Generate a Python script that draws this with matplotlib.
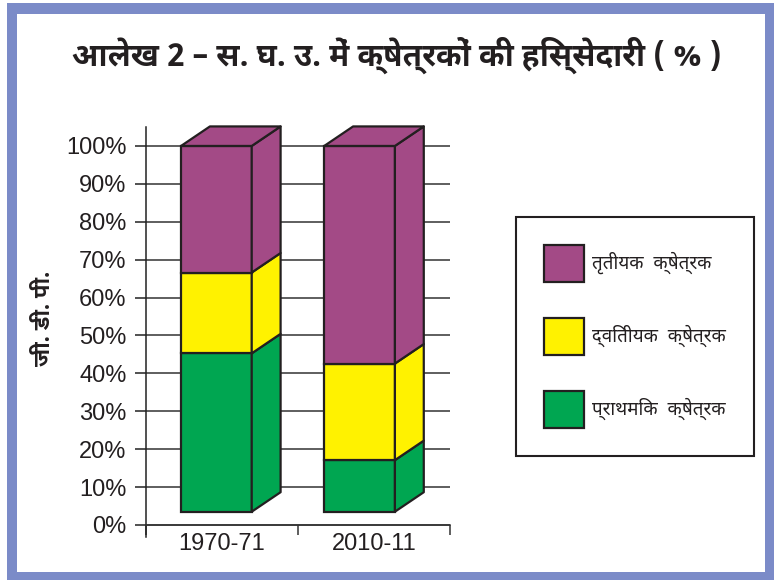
import matplotlib
matplotlib.use("Agg")
import matplotlib.pyplot as plt
from matplotlib import font_manager, ft2font
from matplotlib.patches import Polygon, Rectangle
import numpy as np

# ---------------- data ----------------
categories = ["1970-71", "2010-11"]
primary = [43.3, 14.1]     # प्राथमिक क्षेत्रक
secondary = [22.1, 26.4]   # द्वितीयक क्षेत्रक
tertiary = [34.6, 59.5]    # तृतीयक क्षेत्रक
series_labels = ["प्राथमिक  क्षेत्रक", "द्वितीयक  क्षेत्रक", "तृतीयक  क्षेत्रक"]
yticks = list(range(0, 101, 10))
ytick_labels = [f"{v}%" for v in yticks]
title = "आलेख 2 – स. घ. उ. में क्षेत्रकों की हिस्सेदारी ( % )"
ylabel = "जी. डी. पी."

# ---------------- fonts ----------------
def find_font(ch, prefer=()):
    found = []
    for f in font_manager.fontManager.ttflist:
        try:
            ft = ft2font.FT2Font(f.fname)
            if ord(ch) in ft.get_charmap():
                found.append(f.name)
        except Exception:
            pass
    for p in prefer:
        for n in found:
            if p.lower() in n.lower():
                return n
    return found[0] if found else None

deva = find_font("क", prefer=("Noto Sans Devanagari", "Lohit", "Mukta", "Hind",
                              "Gargi", "FreeSans", "Noto"))
fam = ([deva] if deva else []) + ["Liberation Sans", "DejaVu Sans"]
plt.rcParams["font.family"] = fam

colors = ["#00a651", "#fff200", "#a34a86"]
edge = "#231f20"

W, H = 774, 580
fig = plt.figure(figsize=(W / 100, H / 100), dpi=100)

# frame
fig.patches.append(Rectangle((7 / W, 0), 1 - 7 / W, 1 - 3 / H, transform=fig.transFigure,
                             facecolor="#7b8bc8", edgecolor="none", zorder=-10))
fig.patches.append(Rectangle((17 / W, 1 - 572 / H), (765 - 17) / W, (572 - 14) / H,
                             transform=fig.transFigure, facecolor="white",
                             edgecolor="none", zorder=-9))

ax = fig.add_axes([146 / W, 1 - 537 / H, (450 - 146) / W, (537 - 127) / H])
ax.set_facecolor("none")
ax.set_zorder(1)
ax.set_xlim(-0.5, 1.5)
ax.set_ylim(-3.17, 105)

# 3D projection constants (styling)
floor = 3.5
scale = 0.965
xoff = -0.037
xstep = 0.942
bw = 0.465
dx = 0.19
dy = 5.15

xpos = np.array([xoff + i * xstep for i in range(len(categories))])
series = [primary, secondary, tertiary]
cum = np.zeros(len(categories))
containers = []
for vals, c in zip(series, colors):
    vals = np.array(vals)
    bottoms = floor + scale * cum
    heights = scale * vals
    bc = ax.bar(xpos, heights, bottom=bottoms, width=bw, color=c, edgecolor=edge,
                linewidth=1.6, zorder=3)
    containers.append(bc)
    for x, b, h in zip(xpos, bottoms, heights):
        xr = x + bw / 2
        side = Polygon([(xr, b), (xr + dx, b + dy), (xr + dx, b + h + dy), (xr, b + h)],
                       closed=True, facecolor=c, edgecolor=edge, linewidth=1.6,
                       zorder=3, clip_on=False, joinstyle="round")
        ax.add_patch(side)
    cum = cum + vals

# top faces
for x, t in zip(xpos, floor + scale * cum):
    xl, xr = x - bw / 2, x + bw / 2
    top = Polygon([(xl, t), (xl + dx, t + dy), (xr + dx, t + dy), (xr, t)], closed=True,
                  facecolor=colors[-1], edgecolor=edge, linewidth=1.6, zorder=3,
                  clip_on=False, joinstyle="round")
    ax.add_patch(top)

# axes styling
for s in ["top", "right"]:
    ax.spines[s].set_visible(False)
ax.spines["left"].set_color("#222222")
ax.spines["left"].set_linewidth(1.1)
ax.spines["bottom"].set_position(("data", 0))
ax.spines["bottom"].set_color("#333333")
ax.spines["bottom"].set_linewidth(1.1)

ax.set_yticks(yticks)
ax.set_yticklabels(ytick_labels, fontfamily=["Liberation Sans", "DejaVu Sans"],
                   fontsize=17, color="#231f20")
ax.tick_params(axis="y", direction="out", length=8, width=1.1, color="#222222", pad=6)
ax.yaxis.grid(True, color="#333333", linewidth=1.1, zorder=0)
ax.set_axisbelow(True)

ax.set_xticks([0, 1])
ax.set_xticklabels(categories, fontfamily=["Liberation Sans", "DejaVu Sans"],
                   fontsize=17, color="#231f20")
ax.set_xticks([-0.5, 0.5, 1.5], minor=True)
ax.tick_params(axis="x", which="major", length=0, pad=6)
ax.tick_params(axis="x", which="minor", direction="out", length=7.5, width=1.1,
               color="#333333")

# title & y label
fig.text(0.513, 1 - 55 / H, title, ha="center", va="center", fontsize=22.5,
         fontweight="bold", color="#231f20")
fig.text(44 / W, 1 - 318 / H, ylabel, ha="center", va="center", rotation=90,
         fontsize=16, fontweight="bold", color="#231f20")

# legend
lfs = 13.5
em = lfs * 100 / 72
leg = fig.legend([containers[2], containers[1], containers[0]],
                 [series_labels[2], series_labels[1], series_labels[0]],
                 loc="upper left", bbox_to_anchor=(516 / W, 1 - 217 / H),
                 bbox_transform=fig.transFigure, borderaxespad=0, fontsize=lfs,
                 handlelength=40 / em, handleheight=((37 / em) - 0.245) / 0.65,
                 handletextpad=8 / em, labelspacing=36 / em, borderpad=28 / em,
                 fancybox=False, framealpha=1, edgecolor="#231f20")
leg.get_frame().set_linewidth(1.5)
for t in leg.get_texts():
    t.set_color("#231f20")

fig.savefig("out.png", dpi=100)
